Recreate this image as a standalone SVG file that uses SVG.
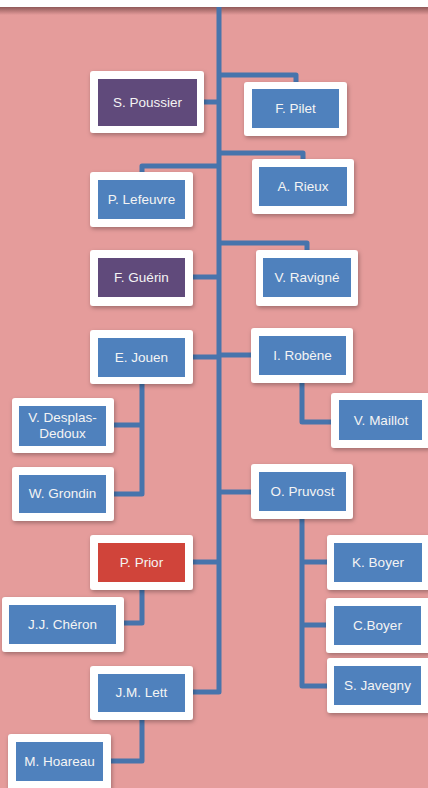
<svg xmlns="http://www.w3.org/2000/svg" width="428" height="788" viewBox="0 0 428 788">
<defs>
<style>
.o{fill:#fff;filter:url(#sh)}
.b{fill:#4F81BD}
.p{fill:#604A7B}
.r{fill:#D0443A}
.c{fill:none;stroke:#4774AC;stroke-width:5;stroke-linejoin:round}
text{font-family:"Liberation Sans",Arial,sans-serif;font-size:13.5px;fill:#F4F4F4;text-anchor:middle}
</style>
<filter id="sh" x="-20%" y="-20%" width="140%" height="150%">
<feDropShadow dx="1" dy="2" stdDeviation="2" flood-color="#000" flood-opacity="0.3"/>
</filter>
<linearGradient id="tg" x1="0" y1="0" x2="0" y2="1">
<stop offset="0" stop-color="#7a4848" stop-opacity="0.8"/>
<stop offset="1" stop-color="#7a4848" stop-opacity="0"/>
</linearGradient>
</defs>
<rect width="428" height="788" fill="#E59C9B"/>
<rect y="7" width="428" height="8" fill="url(#tg)"/>
<rect width="428" height="7" fill="#fff"/>
<g id="connectors">
<path class="c" d="M219 7V692H193"/>
<path class="c" d="M219 75H296V82"/>
<path class="c" d="M204 102H219"/>
<path class="c" d="M219 153H303V159"/>
<path class="c" d="M219 166H142V172"/>
<path class="c" d="M219 243H307V250"/>
<path class="c" d="M193 277H219"/>
<path class="c" d="M193 357H219"/>
<path class="c" d="M219 355H251"/>
<path class="c" d="M142 384V494H114M142 425H114"/>
<path class="c" d="M302 383V422H331"/>
<path class="c" d="M219 492H251"/>
<path class="c" d="M302 519V686H327M302 562H327M302 625H326"/>
<path class="c" d="M193 562H219"/>
<path class="c" d="M142 590V623H124"/>
<path class="c" d="M142 720V761H111"/>
</g>
<g id="n-poussier"><rect class="o" x="90" y="71" width="114" height="62" rx="3"/><rect class="p" x="98" y="79" width="99" height="47"/><text x="147.5" y="107">S. Poussier</text></g>
<g id="n-pilet"><rect class="o" x="244" y="82" width="103" height="54" rx="3"/><rect class="b" x="252" y="89" width="87" height="39"/><text x="295.5" y="113">F. Pilet</text></g>
<g id="n-rieux"><rect class="o" x="252" y="159" width="102" height="55" rx="3"/><rect class="b" x="259" y="167" width="88" height="39"/><text x="303" y="191">A. Rieux</text></g>
<g id="n-lefeuvre"><rect class="o" x="90" y="172" width="103" height="55" rx="3"/><rect class="b" x="98" y="180" width="87" height="39"/><text x="141.5" y="204">P. Lefeuvre</text></g>
<g id="n-guerin"><rect class="o" x="90" y="250" width="103" height="56" rx="3"/><rect class="p" x="98" y="258" width="87" height="39"/><text x="141.5" y="282">F. Guérin</text></g>
<g id="n-ravigne"><rect class="o" x="256" y="250" width="102" height="56" rx="3"/><rect class="b" x="263" y="258" width="88" height="39"/><text x="307" y="282">V. Ravigné</text></g>
<g id="n-jouen"><rect class="o" x="90" y="330" width="103" height="54" rx="3"/><rect class="b" x="98" y="338" width="87" height="39"/><text x="141.5" y="362">E. Jouen</text></g>
<g id="n-robene"><rect class="o" x="251" y="328" width="102" height="55" rx="3"/><rect class="b" x="259" y="336" width="87" height="39"/><text x="302.5" y="360">I. Robène</text></g>
<g id="n-desplas"><rect class="o" x="12" y="398" width="102" height="55" rx="3"/><rect class="b" x="19" y="406" width="87" height="40"/><text x="62.5" y="422">V. Desplas-</text><text x="62.5" y="438">Dedoux</text></g>
<g id="n-maillot"><rect class="o" x="331" y="393" width="100" height="55" rx="3"/><rect class="b" x="339" y="400" width="83" height="40"/><text x="381" y="425">V. Maillot</text></g>
<g id="n-grondin"><rect class="o" x="12" y="467" width="102" height="54" rx="3"/><rect class="b" x="19" y="475" width="87" height="38"/><text x="62.5" y="498">W. Grondin</text></g>
<g id="n-pruvost"><rect class="o" x="251" y="464" width="102" height="55" rx="3"/><rect class="b" x="259" y="472" width="87" height="39"/><text x="302.5" y="496">O. Pruvost</text></g>
<g id="n-prior"><rect class="o" x="90" y="535" width="103" height="55" rx="3"/><rect class="r" x="98" y="543" width="87" height="39"/><text x="141.5" y="567">P. Prior</text></g>
<g id="n-kboyer"><rect class="o" x="327" y="535" width="104" height="55" rx="3"/><rect class="b" x="334" y="543" width="88" height="39"/><text x="378" y="567">K. Boyer</text></g>
<g id="n-cheron"><rect class="o" x="2" y="597" width="122" height="55" rx="3"/><rect class="b" x="9" y="605" width="107" height="39"/><text x="62.5" y="629">J.J. Chéron</text></g>
<g id="n-cboyer"><rect class="o" x="326" y="598" width="105" height="55" rx="3"/><rect class="b" x="334" y="606" width="87" height="39"/><text x="377.5" y="630">C.Boyer</text></g>
<g id="n-javegny"><rect class="o" x="327" y="658" width="104" height="55" rx="3"/><rect class="b" x="334" y="666" width="87" height="39"/><text x="377.5" y="690">S. Javegny</text></g>
<g id="n-lett"><rect class="o" x="90" y="666" width="103" height="54" rx="3"/><rect class="b" x="98" y="674" width="87" height="38"/><text x="141.5" y="697">J.M. Lett</text></g>
<g id="n-hoareau"><rect class="o" x="8" y="734" width="103" height="58" rx="3"/><rect class="b" x="16" y="742" width="87" height="39"/><text x="59.5" y="766">M. Hoareau</text></g>
</svg>
